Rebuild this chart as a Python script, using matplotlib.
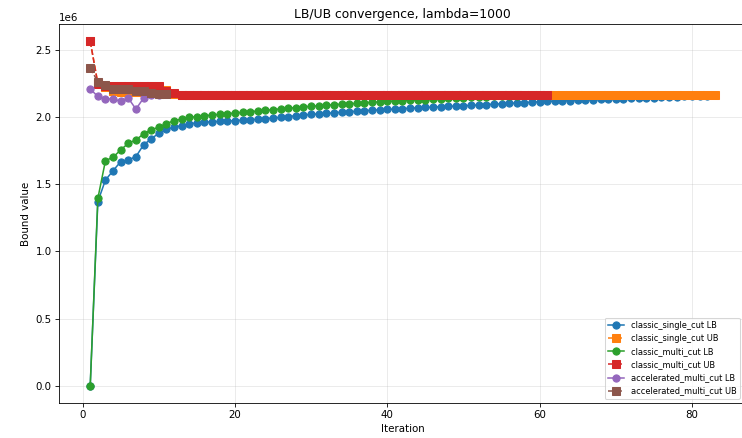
import matplotlib
matplotlib.use("Agg")
import matplotlib.pyplot as plt

# bound values in units of 1e6
single_lb = [0.0, 1.370, 1.530, 1.599, 1.667, 1.679, 1.704, 1.791, 1.836, 1.878,
             1.908, 1.923, 1.935, 1.948, 1.955, 1.960, 1.963, 1.966, 1.969, 1.972,
             1.975, 1.978, 1.982, 1.986, 1.991, 1.996, 2.002, 2.008, 2.013, 2.018,
             2.022, 2.026, 2.030, 2.034, 2.038, 2.041, 2.045, 2.049, 2.052, 2.055,
             2.058, 2.061, 2.064, 2.067, 2.070, 2.072, 2.075, 2.077, 2.080, 2.082,
             2.085, 2.088, 2.091, 2.094, 2.097, 2.100, 2.103, 2.106, 2.109, 2.112,
             2.115, 2.117, 2.119, 2.121, 2.123, 2.125, 2.127, 2.129, 2.131, 2.133,
             2.135, 2.137, 2.139, 2.141, 2.143, 2.145, 2.147, 2.149, 2.151, 2.153,
             2.155, 2.157, 2.159]
single_ub = [2.562, 2.250, 2.220, 2.190, 2.185, 2.185, 2.185, 2.185, 2.185, 2.190,
             2.200, 2.170] + [2.165] * 71
multi_lb = [0.0, 1.393, 1.674, 1.699, 1.754, 1.803, 1.828, 1.873, 1.903, 1.923,
            1.948, 1.972, 1.982, 1.995, 2.002, 2.008, 2.013, 2.018, 2.023, 2.028,
            2.033, 2.038, 2.043, 2.048, 2.054, 2.059, 2.064, 2.069, 2.074, 2.078,
            2.082, 2.086, 2.090, 2.094, 2.097, 2.100, 2.104, 2.108, 2.111, 2.114,
            2.117, 2.120, 2.123, 2.126, 2.128, 2.131, 2.134, 2.137, 2.140, 2.142,
            2.145, 2.147, 2.149, 2.151, 2.153, 2.155, 2.157, 2.159, 2.161, 2.163,
            2.164]
multi_ub = [2.562, 2.245, 2.230, 2.226, 2.226, 2.226, 2.226, 2.226, 2.226, 2.226,
            2.195, 2.175] + [2.164] * 49
accel_lb = [2.207, 2.151, 2.132, 2.134, 2.114, 2.139, 2.057, 2.139, 2.160, 2.165, 2.166]
accel_ub = [2.363, 2.260, 2.238, 2.207, 2.207, 2.205, 2.192, 2.190, 2.180, 2.172, 2.167]

series = [
    ("classic_single_cut LB", single_lb, "o", "-"),
    ("classic_single_cut UB", single_ub, "s", "--"),
    ("classic_multi_cut LB", multi_lb, "o", "-"),
    ("classic_multi_cut UB", multi_ub, "s", "--"),
    ("accelerated_multi_cut LB", accel_lb, "o", "-"),
    ("accelerated_multi_cut UB", accel_ub, "s", "--"),
]

fig = plt.figure(figsize=(10, 438 / 74.2), dpi=74.2)
ax = fig.add_axes([59 / 742, 35 / 438, 687 / 742, 379 / 438])

for label, vals, marker, ls in series:
    it = list(range(1, len(vals) + 1))
    ax.plot(it, [v * 1e6 for v in vals], marker=marker, linestyle=ls,
            markersize=7, label=label)

ax.set_title("LB/UB convergence, lambda=1000")
ax.set_xlabel("Iteration")
ax.set_ylabel("Bound value")
ax.grid(True, alpha=0.3)
ax.legend(loc="lower right", fontsize=8, bbox_to_anchor=(744 / 746, 0.0))

fig.savefig("out.png", dpi=74.2)
